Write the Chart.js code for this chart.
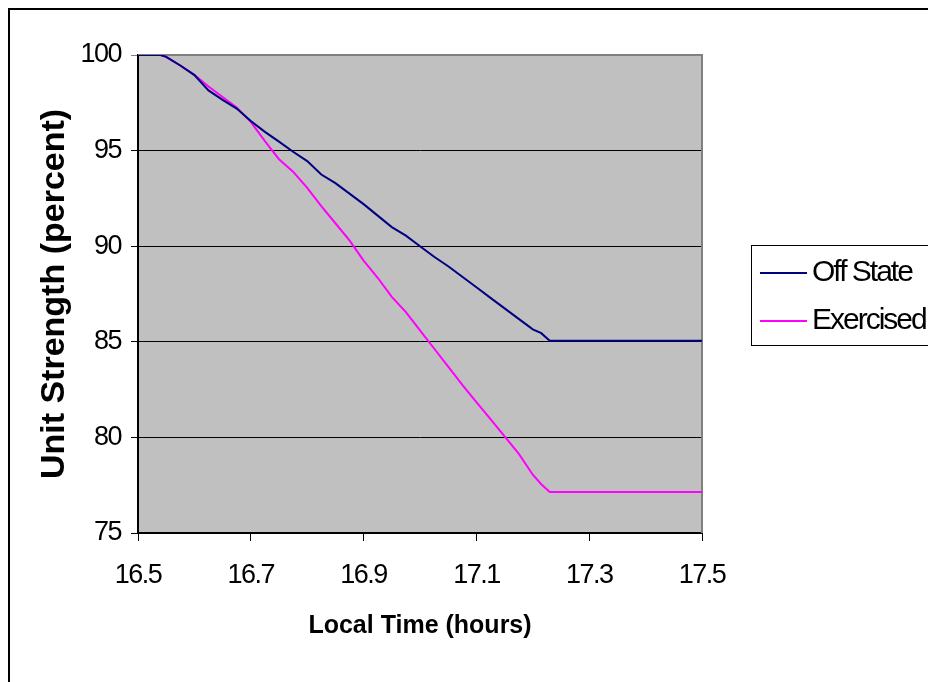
<!DOCTYPE html>
<html>
<head>
<meta charset="utf-8">
<title>Unit Strength</title>
<script src="https://cdn.jsdelivr.net/npm/chart.js@4.4.1/dist/chart.umd.min.js"></script>
<style>
  html, body { margin: 0; padding: 0; background: #fff; }
  #wrap { width: 928px; height: 682px; }
</style>
</head>
<body>
<div id="wrap"><canvas id="strengthChart" width="928" height="682"></canvas></div>
<script>
// data
const seriesNames = ['Off State', 'Exercised'];
const hours = [16.5, 16.54, 16.55, 16.575, 16.6, 16.625, 16.65, 16.675, 16.7, 16.725, 16.75, 16.775,
  16.8, 16.825, 16.85, 16.875, 16.9, 16.925, 16.95, 16.975, 17.0, 17.025, 17.05, 17.075,
  17.1, 17.125, 17.15, 17.175, 17.2, 17.215, 17.23, 17.5];
const offState = [100, 100, 99.9, 99.45, 98.95, 98.15, 97.65, 97.2, 96.55, 95.98, 95.47, 94.94,
  94.45, 93.75, 93.3, 92.75, 92.2, 91.6, 91.0, 90.55, 90.0, 89.45, 88.95, 88.4,
  87.85, 87.3, 86.75, 86.2, 85.65, 85.45, 85.05, 85.05];
const exercised = [100, 100, 99.9, 99.45, 98.97, 98.35, 97.8, 97.25, 96.5, 95.5, 94.55, 93.9,
  93.05, 92.1, 91.2, 90.3, 89.25, 88.35, 87.35, 86.55, 85.6, 84.65, 83.7, 82.75,
  81.85, 80.95, 80.05, 79.15, 78.05, 77.55, 77.15, 77.15];
const xTicks = [16.5, 16.7, 16.9, 17.1, 17.3, 17.5];
const yTicks = [75, 80, 85, 90, 95, 100];
const colors = ['#000080', '#FF00FF'];

const FONT = "'Liberation Sans', Arial, sans-serif";

function toPoints(values) {
  return hours.map((h, i) => ({ x: h, y: values[i] }));
}

// white page, outer frame, grey plot area
const backdrop = {
  id: 'backdrop',
  beforeDraw(chart) {
    const { ctx, chartArea: a } = chart;
    ctx.letterSpacing = '0px';
    ctx.save();
    ctx.fillStyle = '#fff';
    ctx.fillRect(0, 0, chart.width, chart.height);
    ctx.strokeStyle = '#000';
    ctx.lineWidth = 2;
    ctx.strokeRect(9, 9, chart.width + 20, chart.height + 20);
    ctx.fillStyle = '#C0C0C0';
    ctx.fillRect(a.left, a.top, a.right - a.left, a.bottom - a.top);
    ctx.restore();
  },
  beforeDatasetsDraw(chart) {
    const { ctx, chartArea: a } = chart;
    ctx.save();
    ctx.strokeStyle = '#808080';
    ctx.lineWidth = 2;
    ctx.beginPath();
    ctx.moveTo(a.left, a.top);
    ctx.lineTo(a.right, a.top);
    ctx.lineTo(a.right, a.bottom);
    ctx.stroke();
    ctx.restore();
  },
  afterDatasetsDraw(chart) {
    // tick labels come after this (ticks.z = 1), tighten them like the original
    chart.ctx.letterSpacing = '-1.5px';
  }
};

// boxed legend to the right of the plot
const boxLegend = {
  id: 'boxLegend',
  afterDraw(chart) {
    const { ctx } = chart;
    const left = 751, top = 245, bottom = 345;
    ctx.save();
    ctx.strokeStyle = '#000';
    ctx.lineWidth = 1;
    ctx.strokeRect(left + 0.5, top + 0.5, chart.width, bottom - top);
    ctx.font = '30px ' + FONT;
    ctx.letterSpacing = '-2px';
    ctx.textBaseline = 'middle';
    ctx.fillStyle = '#000';
    chart.data.datasets.forEach((ds, i) => {
      const y = 273 + i * 48;
      ctx.strokeStyle = ds.borderColor;
      ctx.lineWidth = 2;
      ctx.beginPath();
      ctx.moveTo(760, y);
      ctx.lineTo(807, y);
      ctx.stroke();
      ctx.fillText(ds.label, 812, y);
    });
    ctx.restore();
    ctx.letterSpacing = '0px';
  }
};

const ctx = document.getElementById('strengthChart').getContext('2d');
new Chart(ctx, {
  type: 'line',
  data: {
    datasets: [
      { label: seriesNames[0], data: toPoints(offState), borderColor: colors[0], backgroundColor: colors[0],
        borderWidth: 2, pointRadius: 0, tension: 0, fill: false },
      { label: seriesNames[1], data: toPoints(exercised), borderColor: colors[1], backgroundColor: colors[1],
        borderWidth: 2, pointRadius: 0, tension: 0, fill: false }
    ]
  },
  options: {
    responsive: false,
    animation: false,
    layout: { padding: { top: 55, right: 226, bottom: 0, left: 0 } },
    plugins: {
      legend: { display: false },
      tooltip: { enabled: false }
    },
    scales: {
      x: {
        type: 'linear',
        min: 16.5,
        max: 17.5,
        afterBuildTicks: scale => { scale.ticks = xTicks.map(v => ({ value: v })); },
        afterFit: scale => { scale.height = 149; },
        ticks: {
          z: 1,
          color: '#000',
          font: { family: FONT, size: 27 },
          padding: 18,
          maxRotation: 0,
          callback: v => v.toFixed(1)
        },
        grid: { drawOnChartArea: false, color: '#000', tickLength: 8 },
        border: { color: '#000', width: 2 },
        title: {
          display: true,
          text: 'Local Time (hours)',
          color: '#000',
          font: { family: FONT, size: 25, weight: 'bold' },
          padding: { top: 0, bottom: 41 }
        }
      },
      y: {
        min: 75,
        max: 100,
        afterBuildTicks: scale => { scale.ticks = yTicks.map(v => ({ value: v })); },
        afterFit: scale => { scale.width = 138; },
        ticks: {
          z: 1,
          color: '#000',
          font: { family: FONT, size: 27 },
          padding: 10
        },
        grid: {
          color: c => (c.tick && c.tick.value === 100 ? '#808080' : '#000'),
          lineWidth: 1,
          tickLength: 7
        },
        border: { color: '#000', width: 2 },
        title: {
          display: true,
          text: 'Unit Strength (percent)',
          color: '#000',
          font: { family: FONT, size: 34, weight: 'bold' },
          padding: { top: 34, bottom: 0 }
        }
      }
    }
  },
  plugins: [backdrop, boxLegend]
});
</script>
</body>
</html>
